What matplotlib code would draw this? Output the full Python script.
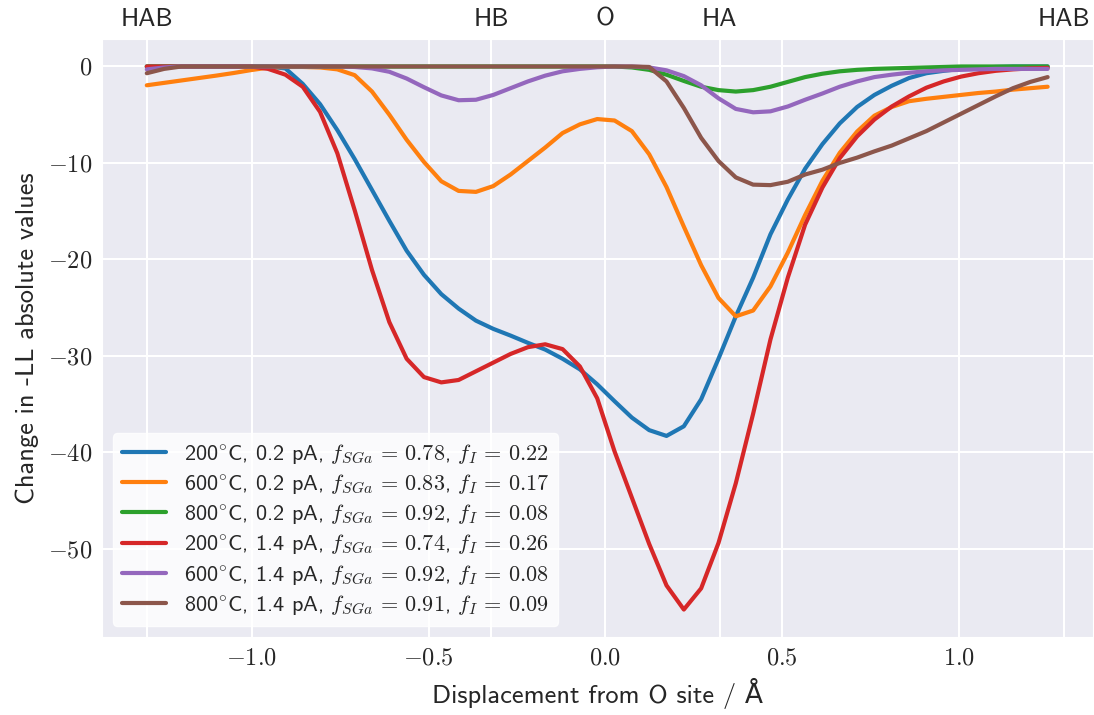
import matplotlib
matplotlib.use('Agg')
import matplotlib.pyplot as plt
import seaborn as sns
from matplotlib.ticker import FuncFormatter

# ---------------- data ----------------
x = [-1.297, -1.248, -1.199, -1.150, -1.101, -1.052, -1.003, -0.954, -0.905, -0.856,
     -0.807, -0.758, -0.709, -0.660, -0.611, -0.562, -0.513, -0.464, -0.415, -0.366,
     -0.317, -0.268, -0.219, -0.170, -0.121, -0.072, -0.023, 0.026, 0.075, 0.124,
     0.173, 0.222, 0.271, 0.320, 0.369, 0.418, 0.467, 0.516, 0.565, 0.614,
     0.663, 0.712, 0.761, 0.810, 0.859, 0.908, 0.957, 1.006, 1.055, 1.104,
     1.153, 1.202, 1.251]

blue_200_02 = [0, 0, 0, 0, 0, 0, 0, -0.02, -0.2, -1.8,
               -3.9, -6.6, -9.6, -12.8, -16.0, -19.1, -21.6, -23.6, -25.1, -26.35,
               -27.2, -27.9, -28.65, -29.35, -30.3, -31.4, -32.95, -34.7, -36.4, -37.7,
               -38.3, -37.3, -34.5, -30.3, -25.9, -21.9, -17.4, -13.8, -10.6, -8.05,
               -5.9, -4.2, -2.95, -2.0, -1.2, -0.7, -0.45, -0.25, -0.12, -0.05,
               0, 0, 0]

orange_600_02 = [-1.95, -1.7, -1.45, -1.2, -0.95, -0.68, -0.38, -0.12, -0.05, -0.05,
                 -0.1, -0.3, -0.9, -2.6, -5.0, -7.6, -9.9, -11.9, -12.9, -13.0,
                 -12.4, -11.2, -9.8, -8.4, -6.9, -6.0, -5.45, -5.6, -6.7, -9.1,
                 -12.5, -16.6, -20.6, -24.0, -25.9, -25.3, -22.8, -19.3, -15.4, -11.85,
                 -8.95, -6.75, -5.1, -4.2, -3.6, -3.35, -3.15, -2.95, -2.75, -2.6,
                 -2.4, -2.25, -2.1]

green_800_02 = [0, 0, 0, 0, 0, 0, 0, 0, 0, 0,
                0, 0, 0, 0, 0, 0, 0, 0, 0, 0,
                0, 0, 0, 0, 0, 0, 0, 0, -0.1, -0.35,
                -0.85, -1.5, -2.1, -2.45, -2.6, -2.45, -2.1, -1.6, -1.1, -0.75,
                -0.5, -0.35, -0.25, -0.2, -0.15, -0.1, -0.05, 0, 0, 0,
                0, 0, 0]

red_200_14 = [0, 0, 0, 0, 0, 0, 0, -0.25, -0.85, -2.1,
              -4.7, -9.0, -14.9, -21.1, -26.5, -30.3, -32.2, -32.75, -32.5, -31.6,
              -30.7, -29.8, -29.1, -28.8, -29.3, -31.1, -34.4, -39.9, -44.7, -49.5,
              -53.8, -56.3, -54.1, -49.4, -43.2, -36.0, -28.3, -21.9, -16.4, -12.55,
              -9.5, -7.25, -5.5, -4.15, -3.1, -2.2, -1.55, -1.05, -0.7, -0.45,
              -0.3, -0.2, -0.15]

purple_600_14 = [-0.3, -0.1, 0, 0, 0, 0, 0, 0, 0, 0,
                 0, 0, -0.05, -0.2, -0.55, -1.25, -2.15, -3.0, -3.5, -3.45,
                 -2.95, -2.25, -1.55, -0.95, -0.5, -0.25, -0.08, 0, 0, -0.1,
                 -0.4, -1.0, -1.95, -3.3, -4.4, -4.75, -4.65, -4.15, -3.45, -2.8,
                 -2.1, -1.55, -1.1, -0.85, -0.65, -0.5, -0.4, -0.35, -0.3, -0.25,
                 -0.25, -0.25, -0.25]

brown_800_14 = [-0.7, -0.25, 0, 0, 0, 0, 0, 0, 0, 0,
                0, 0, 0, 0, 0, 0, 0, 0, 0, 0,
                0, 0, 0, 0, 0, 0, 0, 0, 0, -0.05,
                -1.55, -4.3, -7.4, -9.8, -11.5, -12.25, -12.3, -11.95, -11.2, -10.7,
                -10.0, -9.45, -8.8, -8.2, -7.45, -6.7, -5.8, -4.9, -4.0, -3.1,
                -2.25, -1.6, -1.1]

series = [blue_200_02, orange_600_02, green_800_02, red_200_14, purple_600_14, brown_800_14]
labels = [
    r'200$^{\circ}$C, 0.2 pA, $f_{SGa}\,=\,0.78$, $f_I\,=\,0.22$',
    r'600$^{\circ}$C, 0.2 pA, $f_{SGa}\,=\,0.83$, $f_I\,=\,0.17$',
    r'800$^{\circ}$C, 0.2 pA, $f_{SGa}\,=\,0.92$, $f_I\,=\,0.08$',
    r'200$^{\circ}$C, 1.4 pA, $f_{SGa}\,=\,0.74$, $f_I\,=\,0.26$',
    r'600$^{\circ}$C, 1.4 pA, $f_{SGa}\,=\,0.92$, $f_I\,=\,0.08$',
    r'800$^{\circ}$C, 1.4 pA, $f_{SGa}\,=\,0.91$, $f_I\,=\,0.09$',
]
colors = ['#1f77b4', '#ff7f0e', '#2ca02c', '#d62728', '#9467bd', '#8c564b']

x_ticks = [-1.0, -0.5, 0.0, 0.5, 1.0]
y_ticks = [0, -10, -20, -30, -40, -50]
site_pos = [-1.297, -0.323, 0.0, 0.323, 1.297]
site_names = ['HAB', 'HB', 'O', 'HA', 'HAB']

# ---------------- style ----------------
sns.set_style('darkgrid')
plt.rcParams['font.family'] = ['cmss10', 'DejaVu Sans']
plt.rcParams['mathtext.fontset'] = 'cm'
plt.rcParams['axes.unicode_minus'] = False

fig = plt.figure(figsize=(10.94, 7.15), dpi=100)
ax = fig.add_axes([0.093, 0.1095, 0.9058, 0.8355])

for ys, lab, c in zip(series, labels, colors):
    ax.plot(x, ys, color=c, lw=3.0, label=lab, zorder=3,
            solid_joinstyle='round', solid_capstyle='round')

ax.set_xticks(x_ticks)
ax.xaxis.set_major_formatter(FuncFormatter(lambda v, p: f'${v:.1f}$'))
ax.set_yticks(y_ticks)
ax.yaxis.set_major_formatter(FuncFormatter(lambda v, p: f'${int(round(v))}$'))
ax.set_xticks(site_pos, minor=True)
ax.grid(True, which='major', color='white', lw=1.5)
ax.grid(True, which='minor', axis='x', color='white', lw=1.5)
ax.tick_params(axis='both', which='major', labelsize=17.5, length=0)
ax.tick_params(axis='x', which='major', pad=8)
ax.tick_params(axis='y', which='major', pad=7)
ax.tick_params(which='minor', length=0)

ax.set_xlabel('Displacement from O site / Å', fontsize=19, labelpad=6)
ax.set_ylabel('Change in -LL absolute values', fontsize=19, labelpad=6)

sec = ax.secondary_xaxis('top')
sec.set_xticks(site_pos)
sec.set_xticklabels(site_names)
sec.tick_params(length=0, labelsize=18.5, pad=6)
for s in sec.spines.values():
    s.set_visible(False)

leg = ax.legend(loc='lower left', fontsize=16, facecolor='white', framealpha=0.8,
                edgecolor='white', handlelength=2.0, labelspacing=0.3)

fig.savefig('out.png', dpi=100)
